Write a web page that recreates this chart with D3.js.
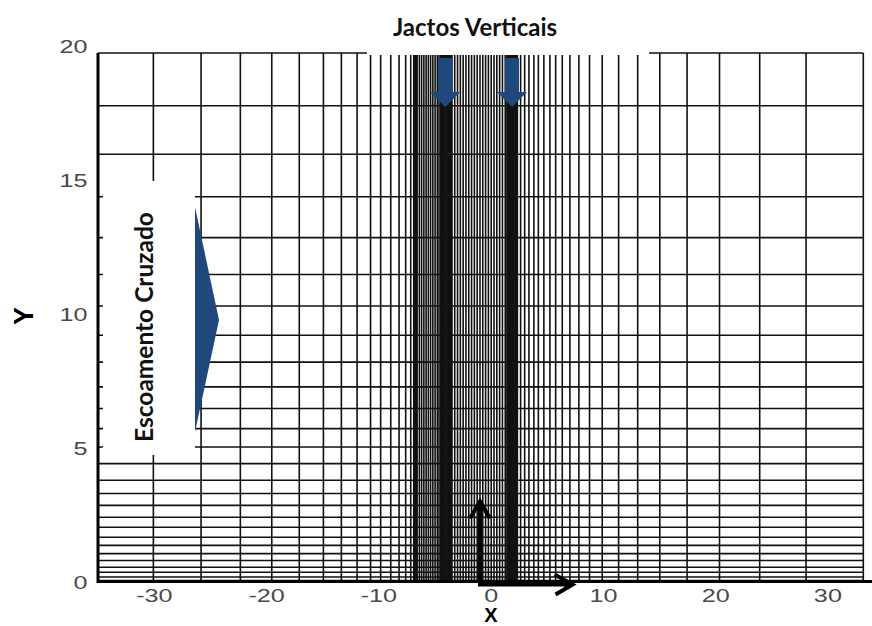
<!DOCTYPE html>
<html>
<head>
<meta charset="utf-8">
<script src="https://cdn.jsdelivr.net/npm/d3@7"></script>
<style>
  body { margin: 0; background: #fff; }
</style>
</head>
<body>
<div id="chart"></div>
<script>
// mesh lines (x positions)
const xLines = [
  -35, -30.05, -25.8, -22.3, -19.5, -17.05, -14.9, -13.3, -11.9, -10.7, -9.8, -8.9, -8.16, -7.57, -7.12,
  -6.85, -6.78, -6.7, -6.62, -6.55,
  -6.35, -6.15, -5.95, -5.75, -5.55, -5.35, -5.15, -4.95, -4.75, -4.6,
  -4.45, -4.38, -4.3, -4.22, -4.14, -4.06, -3.98, -3.9, -3.82, -3.74, -3.66, -3.58, -3.5, -3.45,
  -3.2, -2.95, -2.7, -2.45, -2.2, -1.95, -1.7, -1.45, -1.2, -0.95, -0.7, -0.45, -0.2, 0.05, 0.3, 0.55, 0.8, 1.05, 1.3,
  1.45, 1.52, 1.6, 1.68, 1.76, 1.84, 1.92, 2.0, 2.08, 2.16, 2.24, 2.32, 2.38,
  2.67, 3.03, 3.41, 3.85, 4.25, 4.74, 5.28, 5.79, 6.38, 7.06, 7.86, 8.81, 9.94, 11.4, 13.1, 15.07, 17.5, 20.39, 23.97, 28.1, 33.2
];

// mesh lines (y positions)
const yLines = [
  0, 0.13, 0.31, 0.5, 0.76, 1.02, 1.33, 1.64, 2.02, 2.4, 2.85, 3.3, 3.8, 4.43, 5.06,
  5.76, 6.52, 7.34, 8.28, 9.3, 10.41, 11.6, 13.0, 14.55, 16.16, 18.0, 20
];

const xTicks = [-30, -20, -10, 0, 10, 20, 30];
const yTicks = [0, 5, 10, 15, 20];
const jetX = [-4.05, 1.9];

const width = 872;
const height = 626;

const svg = d3.select("#chart")
  .append("svg")
  .attr("width", width)
  .attr("height", height);

const x = d3.scaleLinear().domain([-35, 33.2]).range([97.8, 863.3]);
const y = d3.scaleLinear().domain([0, 20]).range([580.5, 53]);
// the tick labels sit slightly off the mesh in the original
const yLab = d3.scaleLinear().domain([0, 20]).range([583, 47]);

//mesh
const grid = svg.append("g")
  .attr("stroke", "#111")
  .attr("stroke-width", 1.6);

grid.selectAll("line.v")
  .data(xLines)
  .join("line")
  .attr("class", "v")
  .attr("x1", d => x(d))
  .attr("x2", d => x(d))
  .attr("y1", y(20))
  .attr("y2", y(0));

grid.selectAll("line.h")
  .data(yLines)
  .join("line")
  .attr("class", "h")
  .attr("x1", x(-35))
  .attr("x2", x(33.2))
  .attr("y1", d => y(d))
  .attr("y2", d => y(d));

//axis lines
svg.append("line")
  .attr("x1", 98).attr("x2", 98)
  .attr("y1", y(20)).attr("y2", 583)
  .attr("stroke", "#000").attr("stroke-width", 3);

svg.append("line")
  .attr("x1", 97).attr("x2", 872)
  .attr("y1", 581.5).attr("y2", 581.5)
  .attr("stroke", "#000").attr("stroke-width", 3);

//tick labels
const xAxis = svg.append("g")
  .attr("transform", "translate(0,581)")
  .call(d3.axisBottom(x).tickValues(xTicks).tickSize(0).tickPadding(8));

const yAxis = svg.append("g")
  .attr("transform", "translate(98,0)")
  .call(d3.axisLeft(yLab).tickValues(yTicks).tickSize(0).tickPadding(7.5));

[xAxis, yAxis].forEach(a => {
  a.select(".domain").remove();
  a.selectAll("text")
    .attr("transform", "scale(1.4,1)")
    .style("font-family", "'Liberation Sans', Arial, sans-serif")
    .style("font-size", "18px")
    .style("fill", "#4a4a4a");
});
xAxis.selectAll("text").text(d => d < 0 ? "-" + Math.abs(d) : d);

//axis titles
svg.append("text")
  .attr("x", 491)
  .attr("y", 621.5)
  .attr("text-anchor", "middle")
  .style("font-family", "'Liberation Sans', Arial, sans-serif")
  .style("font-weight", "bold")
  .style("font-size", "20px")
  .text("X");

svg.append("text")
  .attr("transform", "translate(33,316) rotate(-90)")
  .attr("text-anchor", "middle")
  .style("font-family", "'Liberation Sans', Arial, sans-serif")
  .style("font-weight", "bold")
  .style("font-size", "27px")
  .text("Y");

//title box and jet arrows
svg.append("rect")
  .attr("x", 367).attr("y", 0)
  .attr("width", 282).attr("height", 55)
  .attr("fill", "#fff");

svg.append("text")
  .attr("x", 475)
  .attr("y", 36)
  .attr("text-anchor", "middle")
  .style("font-family", "Lato, 'Open Sans', sans-serif")
  .style("font-weight", "bold")
  .style("font-size", "24px")
  .style("fill", "#111")
  .text("Jactos Verticais");

const blue = "#1f497d";

svg.selectAll("path.jet")
  .data(jetX)
  .join("path")
  .attr("class", "jet")
  .attr("fill", blue)
  .attr("d", d => {
    const cx = x(d);
    return `M${cx - 7},58 H${cx + 7} V92 H${cx + 15} L${cx},107 L${cx - 15},92 H${cx - 7} Z`;
  });

//cross flow label
svg.append("rect")
  .attr("x", 103).attr("y", 181)
  .attr("width", 92).attr("height", 274)
  .attr("fill", "#fff");

svg.append("text")
  .attr("transform", "translate(153,327) rotate(-90)")
  .attr("text-anchor", "middle")
  .style("font-family", "Lato, 'Open Sans', sans-serif")
  .style("font-weight", "bold")
  .style("font-size", "24.5px")
  .style("fill", "#111")
  .text("Escoamento Cruzado");

svg.append("path")
  .attr("fill", blue)
  .attr("d", "M195,207 L219,320 L195,432 Z");

//coordinate arrows at the origin
const ox = x(-0.95), oy = 584.5;
const tipY = y(3), tipX = x(7.3);
svg.append("path")
  .attr("fill", "none")
  .attr("stroke", "#000")
  .attr("stroke-width", 4)
  .attr("d", `M${ox},${oy + 2} V${tipY + 2} M${ox - 10},${tipY + 17} L${ox},${tipY} L${ox + 10},${tipY + 17}
              M${ox - 2},${oy} H${tipX - 2} M${tipX - 18},${oy - 10} L${tipX},${oy} L${tipX - 17},${oy + 10}`);
</script>
</body>
</html>
